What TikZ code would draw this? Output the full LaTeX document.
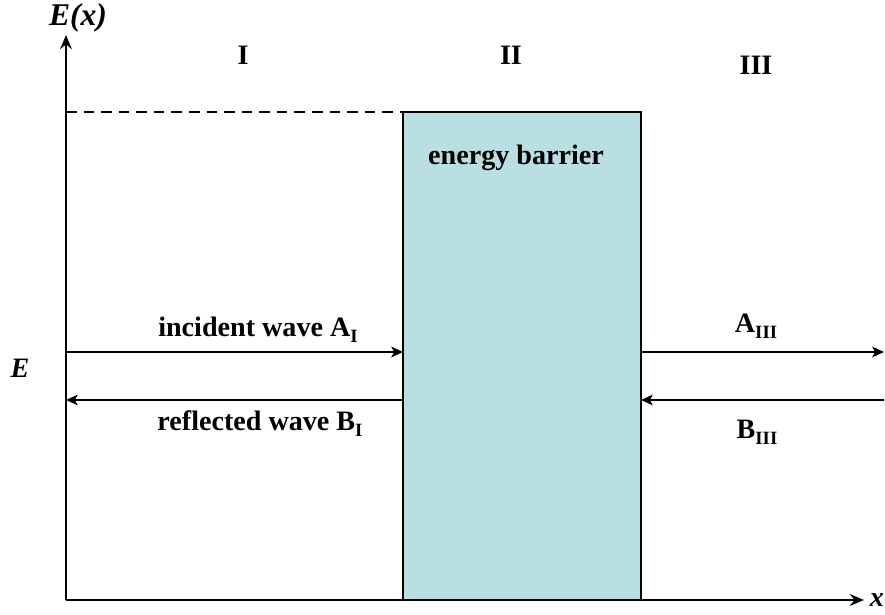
\documentclass[tikz,border=0pt]{standalone}
\usepackage{fontspec}
\setmainfont{Liberation Serif}
\usepackage{tikz}
\definecolor{barrier}{RGB}{185,223,227}
\usetikzlibrary{arrows.meta}
\newcommand{\lowidx}[1]{\raisebox{-0.45ex}{\fontsize{16}{16}\selectfont #1}}

\begin{document}
\begin{tikzpicture}[x=0.03cm,y=-0.03cm,
        font=\bfseries\fontsize{24}{28}\selectfont,
        axis/.style={line width=1.9pt,-{Stealth[length=12pt,width=10pt]}},
        wave/.style={line width=1.7pt,-{Stealth[length=10pt,width=9pt,inset=2.5pt]}}]
        \useasboundingbox (0,0) rectangle (885,615);

        % the barrier
        \fill[barrier] (403,112) rectangle (641,600);
        \draw[line width=0.9pt] (403,112) rectangle (641,600);

        % axes
        \coordinate (O) at (66,600);
        \coordinate (ytop) at (66,35);
        \coordinate (xend) at (864,600);
        \draw[axis] (O) -- (ytop);
        \draw[axis] (O) -- (xend);
        \draw[line width=1.4pt,dash pattern=on 9pt off 6pt] (66,112) -- (403,112);

        % wave ends
        \coordinate (inL) at (66,352);
        \coordinate (inR) at (403,352);
        \coordinate (reL) at (66,400);
        \coordinate (reR) at (403,400);
        \coordinate (trL) at (641,352);
        \coordinate (trR) at (884,352);
        \coordinate (bkL) at (641,400);
        \coordinate (bkR) at (884,400);
        \draw[wave] (inL) -- (inR);
        \draw[wave] (reR) -- (reL);
        \draw[wave] (trL) -- (trR);
        \draw[wave] (bkR) -- (bkL);

        \node (Ex) at (78,18) {\fontsize{27}{30}\selectfont\itshape E(x)};
        \node (xlab) at (877,600) {\itshape x};
        \node (Elab) at (20,368) {\itshape E};
        \node (r1) at (243,55) {I};
        \node (r2) at (511,55) {II};
        \node (r3) at (756,65) {III};
        \node (bar) at (516,158) {energy barrier};
        \node (inc) at (258,330) {incident wave A\lowidx{I}};
        \node (ref) at (260,424) {reflected wave B\lowidx{I}};
        \node (tra) at (756,326) {A\lowidx{III}};
        \node (bk) at (757,432) {B\lowidx{III}};
    \end{tikzpicture}
\end{document}
